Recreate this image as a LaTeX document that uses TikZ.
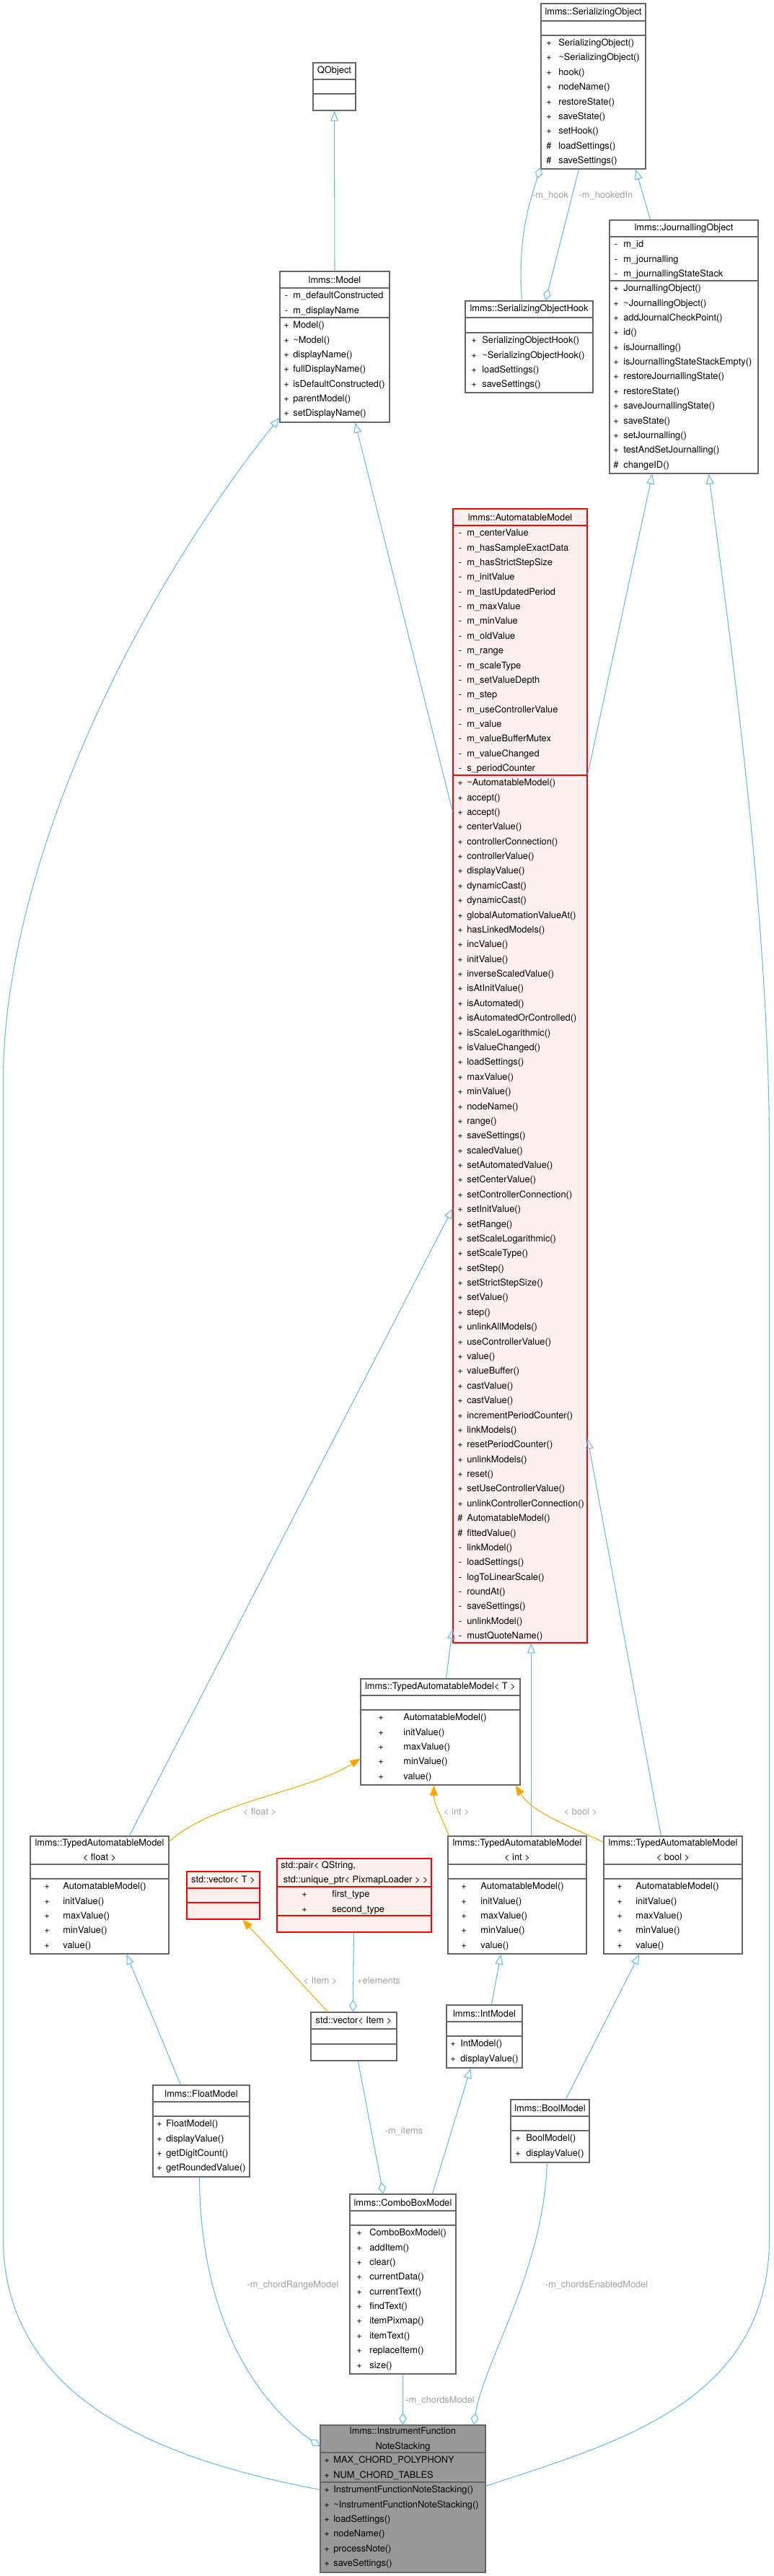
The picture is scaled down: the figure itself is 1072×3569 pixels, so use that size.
\documentclass[tikz,border=0pt]{standalone}
\usepackage{fontspec}
\setmainfont{TeX Gyre Heros}
\usepackage{tikz}
\usetikzlibrary{arrows.meta, fit, calc}
\definecolor{edgeblue}{RGB}{99, 184, 255}
\definecolor{boxgray}{RGB}{102, 102, 102}
\definecolor{tmplorange}{RGB}{255, 165, 0}
\definecolor{pinkfill}{RGB}{255, 240, 240}
\definecolor{nodegray}{RGB}{153, 153, 153}
\definecolor{labelgray}{RGB}{160, 160, 160}
\newcommand{\umlfont}{\fontsize{7.3}{11.6}\selectfont}
\newcommand{\leftrows}[1]{\begin{tabular}{@{}l@{}}#1\end{tabular}}
\newcommand{\midrows}[1]{\begin{tabular}{@{}c@{}}#1\end{tabular}}

\begin{document}
\begin{tikzpicture}[x=0.02cm, y=-0.02cm,
    classbox/.style={draw=boxgray, fill=white, line width=0.7pt, inner sep=0pt},
    redbox/.style={classbox, draw=red, fill=pinkfill},
    mainbox/.style={classbox, fill=nodegray},
    sepline/.style={draw=boxgray, line width=0.7pt},
    redline/.style={draw=red, line width=0.7pt},
    titletext/.style={inner sep=0pt, font=\umlfont},
    signcol/.style={anchor=north, inner sep=0pt, font=\umlfont},
    namecol/.style={anchor=north west, inner sep=0pt, font=\umlfont},
    inherit/.style={draw=edgeblue, line width=0.6pt, -{Triangle[open, length=8pt, width=6.2pt]}},
    aggr/.style={draw=edgeblue, line width=0.6pt, -{Diamond[open, length=9.5pt, width=6pt]}},
    tmpl/.style={draw=tmplorange, line width=0.6pt, -{Triangle[length=8pt, width=6.2pt]}},
    edgelabel/.style={inner sep=0pt, font=\umlfont, text=labelgray}]
\useasboundingbox (0,0) rectangle (1072,3569);

% QObject
\node[classbox, fit={(434,87) (493,153)}] (qobject) {};
\node[titletext] (qobject-title) at (463.5,98.5) {QObject};
\draw[sepline] (434,110) -- (493,110);
\draw[sepline] (434,130) -- (493,130);

% SerializingObject
\node[classbox, fit={(750,5) (895,234)}] (serobj) {};
\node[titletext] (serobj-title) at (822.5,17) {lmms::SerializingObject};
\draw[sepline] (750,29) -- (895,29);
\draw[sepline] (750,49) -- (895,49);
\node[signcol] (serobj-signs) at (761,49) {\midrows{+\\+\\+\\+\\+\\+\\+\\\#\\\#}};
\node[namecol] (serobj-ops) at (774,49) {\leftrows{SerializingObject()\\\textasciitilde SerializingObject()\\hook()\\nodeName()\\restoreState()\\saveState()\\setHook()\\loadSettings()\\saveSettings()}};

% Model
\node[classbox, fit={(388,376) (540,585)}] (model) {};
\node[titletext] (model-title) at (464,387.5) {lmms::Model};
\draw[sepline] (388,399) -- (540,399);
\draw[sepline] (388,440) -- (540,440);
\node[signcol] (model-asigns) at (397,399) {\midrows{-\\-}};
\node[namecol] (model-attrs) at (406,399) {\leftrows{m\_defaultConstructed\\m\_displayName}};
\node[signcol] (model-signs) at (397,440) {\midrows{+\\+\\+\\+\\+\\+\\+}};
\node[namecol] (model-ops) at (406,440) {\leftrows{Model()\\\textasciitilde Model()\\displayName()\\fullDisplayName()\\isDefaultConstructed()\\parentModel()\\setDisplayName()}};

% SerializingObjectHook
\node[classbox, fit={(645,417) (822,544)}] (sohook) {};
\node[titletext] (sohook-title) at (733.5,428.5) {lmms::SerializingObjectHook};
\draw[sepline] (645,440) -- (822,440);
\draw[sepline] (645,461) -- (822,461);
\node[signcol] (sohook-signs) at (657,461) {\midrows{+\\+\\+\\+}};
\node[namecol] (sohook-ops) at (668,461) {\leftrows{SerializingObjectHook()\\\textasciitilde SerializingObjectHook()\\loadSettings()\\saveSettings()}};

% JournallingObject
\node[classbox, fit={(845,305) (1051,656)}] (jobj) {};
\node[titletext] (jobj-title) at (948,316.5) {lmms::JournallingObject};
\draw[sepline] (845,328) -- (1051,328);
\draw[sepline] (845,389) -- (1051,389);
\node[signcol] (jobj-asigns) at (854,328) {\midrows{-\\-\\-}};
\node[namecol] (jobj-attrs) at (864,328) {\leftrows{m\_id\\m\_journalling\\m\_journallingStateStack}};
\node[signcol] (jobj-signs) at (854,389) {\midrows{+\\+\\+\\+\\+\\+\\+\\+\\+\\+\\+\\+\\\#}};
\node[namecol] (jobj-ops) at (864,389) {\leftrows{JournallingObject()\\\textasciitilde JournallingObject()\\addJournalCheckPoint()\\id()\\isJournalling()\\isJournallingStateStackEmpty()\\restoreJournallingState()\\restoreState()\\saveJournallingState()\\saveState()\\setJournalling()\\testAndSetJournalling()\\changeID()}};

% AutomatableModel
\node[redbox, fit={(628,705) (814,2276)}] (automodel) {};
\node[titletext] (automodel-title) at (721,716.5) {lmms::AutomatableModel};
\draw[redline] (628,728) -- (814,728);
\draw[redline] (628,1074) -- (814,1074);
\node[signcol] (automodel-asigns) at (638,728) {\midrows{-\\-\\-\\-\\-\\-\\-\\-\\-\\-\\-\\-\\-\\-\\-\\-\\-}};
\node[namecol] (automodel-attrs) at (647,728) {\leftrows{m\_centerValue\\m\_hasSampleExactData\\m\_hasStrictStepSize\\m\_initValue\\m\_lastUpdatedPeriod\\m\_maxValue\\m\_minValue\\m\_oldValue\\m\_range\\m\_scaleType\\m\_setValueDepth\\m\_step\\m\_useControllerValue\\m\_value\\m\_valueBufferMutex\\m\_valueChanged\\s\_periodCounter}};
\node[signcol] (automodel-signs) at (638,1074) {\midrows{+\\+\\+\\+\\+\\+\\+\\+\\+\\+\\
    +\\+\\+\\+\\+\\+\\+\\+\\+\\+\\
    +\\+\\+\\+\\+\\+\\+\\+\\+\\+\\
    +\\+\\+\\+\\+\\+\\+\\+\\+\\+\\
    +\\+\\+\\+\\+\\+\\+\\+\\+\\+\\
    \#\\\#\\-\\-\\-\\-\\-\\-\\-}};
\node[namecol] (automodel-ops) at (647,1074) {\leftrows{\textasciitilde AutomatableModel()\\accept()\\accept()\\centerValue()\\controllerConnection()\\controllerValue()\\displayValue()\\dynamicCast()\\dynamicCast()\\globalAutomationValueAt()\\
    hasLinkedModels()\\incValue()\\initValue()\\inverseScaledValue()\\isAtInitValue()\\isAutomated()\\isAutomatedOrControlled()\\isScaleLogarithmic()\\isValueChanged()\\loadSettings()\\
    maxValue()\\minValue()\\nodeName()\\range()\\saveSettings()\\scaledValue()\\setAutomatedValue()\\setCenterValue()\\setControllerConnection()\\setInitValue()\\
    setRange()\\setScaleLogarithmic()\\setScaleType()\\setStep()\\setStrictStepSize()\\setValue()\\step()\\unlinkAllModels()\\useControllerValue()\\value()\\
    valueBuffer()\\castValue()\\castValue()\\incrementPeriodCounter()\\linkModels()\\resetPeriodCounter()\\unlinkModels()\\reset()\\setUseControllerValue()\\unlinkControllerConnection()\\
    AutomatableModel()\\fittedValue()\\linkModel()\\loadSettings()\\logToLinearScale()\\roundAt()\\saveSettings()\\unlinkModel()\\mustQuoteName()}};

% TypedAutomatableModel< T >
\node[classbox, fit={(500,2326) (721,2473)}] (tamT) {};
\node[titletext] (tamT-title) at (610.5,2337.5) {lmms::TypedAutomatableModel< T >};
\draw[sepline] (500,2349) -- (721,2349);
\draw[sepline] (500,2369) -- (721,2369);
\node[signcol] (tamT-signs) at (528,2369) {\midrows{+\\+\\+\\+\\+}};
\node[namecol] (tamT-ops) at (559,2369) {\leftrows{AutomatableModel()\\initValue()\\maxValue()\\minValue()\\value()}};

% TypedAutomatableModel< float >
\node[classbox, fit={(42,2544) (234,2707)}] (tamfloat) {};
\node[titletext] (tamfloat-title) at (138,2563.5) {\midrows{lmms::TypedAutomatableModel\\< float >}};
\draw[sepline] (42,2583) -- (234,2583);
\draw[sepline] (42,2603) -- (234,2603);
\node[signcol] (tamfloat-signs) at (65,2603) {\midrows{+\\+\\+\\+\\+}};
\node[namecol] (tamfloat-ops) at (87,2603) {\leftrows{AutomatableModel()\\initValue()\\maxValue()\\minValue()\\value()}};

% TypedAutomatableModel< int >
\node[classbox, fit={(621,2544) (813,2707)}] (tamint) {};
\node[titletext] (tamint-title) at (717,2563.5) {\midrows{lmms::TypedAutomatableModel\\< int >}};
\draw[sepline] (621,2583) -- (813,2583);
\draw[sepline] (621,2603) -- (813,2603);
\node[signcol] (tamint-signs) at (643,2603) {\midrows{+\\+\\+\\+\\+}};
\node[namecol] (tamint-ops) at (666,2603) {\leftrows{AutomatableModel()\\initValue()\\maxValue()\\minValue()\\value()}};

% TypedAutomatableModel< bool >
\node[classbox, fit={(837,2544) (1029,2707)}] (tambool) {};
\node[titletext] (tambool-title) at (933,2563.5) {\midrows{lmms::TypedAutomatableModel\\< bool >}};
\draw[sepline] (837,2583) -- (1029,2583);
\draw[sepline] (837,2603) -- (1029,2603);
\node[signcol] (tambool-signs) at (859,2603) {\midrows{+\\+\\+\\+\\+}};
\node[namecol] (tambool-ops) at (881,2603) {\leftrows{AutomatableModel()\\initValue()\\maxValue()\\minValue()\\value()}};

% std::vector< T >
\node[redbox, fit={(259,2593) (360,2659)}] (vecT) {};
\node[titletext] (vecT-title) at (309.5,2604.5) {std::vector< T >};
\draw[redline] (259,2616) -- (360,2616);
\draw[redline] (259,2636) -- (360,2636);

% std::pair
\node[redbox, fit={(384,2575) (598,2677)}] (pair) {};
\node[titletext, anchor=west] (pair-title) at (389,2594.5) {\leftrows{std::pair< QString,\\\ std::unique\_ptr< PixmapLoader > >}};
\draw[redline] (384,2614) -- (598,2614);
\draw[redline] (384,2654) -- (598,2654);
\node[signcol] (pair-asigns) at (422,2614) {\midrows{+\\+}};
\node[namecol] (pair-attrs) at (460,2614) {\leftrows{first\_type\\second\_type}};

% std::vector< Item >
\node[classbox, fit={(431,2788) (550,2855)}] (vecitem) {};
\node[titletext] (vecitem-title) at (490.5,2799.5) {std::vector< Item >};
\draw[sepline] (431,2811) -- (550,2811);
\draw[sepline] (431,2832) -- (550,2832);

% IntModel
\node[classbox, fit={(619,2778) (724,2865)}] (intmodel) {};
\node[titletext] (intmodel-title) at (671.5,2789.5) {lmms::IntModel};
\draw[sepline] (619,2801) -- (724,2801);
\draw[sepline] (619,2821) -- (724,2821);
\node[signcol] (intmodel-signs) at (628,2821) {\midrows{+\\+}};
\node[namecol] (intmodel-ops) at (638,2821) {\leftrows{IntModel()\\displayValue()}};

% FloatModel
\node[classbox, fit={(212,2889) (346,3016)}] (floatmodel) {};
\node[titletext] (floatmodel-title) at (279,2900.5) {lmms::FloatModel};
\draw[sepline] (212,2912) -- (346,2912);
\draw[sepline] (212,2932) -- (346,2932);
\node[signcol] (floatmodel-signs) at (221,2932) {\midrows{+\\+\\+\\+}};
\node[namecol] (floatmodel-ops) at (230,2932) {\leftrows{FloatModel()\\displayValue()\\getDigitCount()\\getRoundedValue()}};

% BoolModel
\node[classbox, fit={(708,2909) (817,2996)}] (boolmodel) {};
\node[titletext] (boolmodel-title) at (762.5,2920.5) {lmms::BoolModel};
\draw[sepline] (708,2932) -- (817,2932);
\draw[sepline] (708,2952) -- (817,2952);
\node[signcol] (boolmodel-signs) at (718,2952) {\midrows{+\\+}};
\node[namecol] (boolmodel-ops) at (729,2952) {\leftrows{BoolModel()\\displayValue()}};

% ComboBoxModel
\node[classbox, fit={(485,3040) (632,3289)}] (combomodel) {};
\node[titletext] (combomodel-title) at (558.5,3051.5) {lmms::ComboBoxModel};
\draw[sepline] (485,3063) -- (632,3063);
\draw[sepline] (485,3083) -- (632,3083);
\node[signcol] (combomodel-signs) at (498,3083) {\midrows{+\\+\\+\\+\\+\\+\\+\\+\\+\\+}};
\node[namecol] (combomodel-ops) at (512,3083) {\leftrows{ComboBoxModel()\\addItem()\\clear()\\currentData()\\currentText()\\findText()\\itemPixmap()\\itemText()\\replaceItem()\\size()}};

% InstrumentFunctionNoteStacking
\node[mainbox, fit={(444,3360) (673,3564)}] (notestack) {};
\node[titletext] (notestack-title) at (558.5,3379) {\midrows{lmms::InstrumentFunction\\NoteStacking}};
\draw[sepline] (444,3398) -- (673,3398);
\draw[sepline] (444,3439) -- (673,3439);
\node[signcol] (notestack-asigns) at (453,3398) {\midrows{+\\+}};
\node[namecol] (notestack-attrs) at (462,3398) {\leftrows{MAX\_CHORD\_POLYPHONY\\NUM\_CHORD\_TABLES}};
\node[signcol] (notestack-signs) at (453,3439) {\midrows{+\\+\\+\\+\\+\\+}};
\node[namecol] (notestack-ops) at (462,3439) {\leftrows{InstrumentFunctionNoteStacking()\\\textasciitilde InstrumentFunctionNoteStacking()\\loadSettings()\\nodeName()\\processNote()\\saveSettings()}};

% inheritance near the top
\draw[inherit] (model.north) -- (qobject.south);
\draw[inherit] ($(jobj.north west)+(57,0)$) -- ($(serobj.south west)+(132,0)$);
\draw[inherit] ($(automodel.north west)+(0,420)$) -- ($(model.south west)+(105,0)$);
\draw[inherit] ($(automodel.north east)+(0,369)$) -- ($(jobj.south west)+(60,0)$);

% hook members
\draw[aggr] ($(sohook.north west)+(79,0)$) .. controls +(-6,-90) and +(-15,49) .. ($(serobj.south west)+(0,-3)$);
\draw[aggr] ($(serobj.south west)+(53,0)$) -- ($(sohook.north west)+(112,0)$);
\node[edgelabel] (lbl-hook) at (763,271) {-m\_hook};
\node[edgelabel] (lbl-hookedin) at (840,271) {-m\_hookedIn};

% long inheritance edges of the note stacking class
\draw[inherit] ($(notestack.north west)+(0,90)$) .. controls +(-210,-40) and +(0,230) .. ++(-439,-350)
    -- ++(0,-1600) .. controls +(0,-300) and +(-200,250) .. ($(model.south west)+(0,-7)$);
\draw[inherit] ($(notestack.north east)+(0,85)$) .. controls +(180,-60) and +(0,230) .. ++(393,-345)
    -- ++(0,-1500) .. controls +(0,-300) and +(40,300) .. ($(jobj.south west)+(138,0)$);

% typed models
\draw[inherit] ($(tamfloat.north west)+(138,0)$) -- ($(automodel.north west)+(0,970)$);
\draw[inherit] ($(tamT.north west)+(119,0)$) -- ($(automodel.south west)+(0,-20)$);
\draw[inherit] ($(tamint.north west)+(116,0)$) -- ($(automodel.south west)+(109,0)$);
\draw[inherit] ($(tambool.north west)+(80,0)$) -- ($(automodel.north east)+(0,1289)$);

% template instances
\draw[tmpl] ($(tamfloat.north east)+(0,8)$) .. controls +(60,-55) and +(-70,45) .. ($(tamT.north west)+(0,111)$);
\draw[tmpl] ($(tamint.north west)+(2,0)$) .. controls +(-12,-30) and +(0,25) .. ($(tamT.south west)+(102,0)$);
\draw[tmpl] ($(tambool.north west)+(0,9)$) .. controls +(-40,-20) and +(25,40) .. ($(tamT.south east)+(-7,0)$);
\draw[tmpl] ($(vecitem.north west)+(24,0)$) -- ($(vecT.south west)+(78,0)$);
\node[edgelabel] (lbl-float) at (360,2510) {< float >};
\node[edgelabel] (lbl-int) at (633,2510) {< int >};
\node[edgelabel] (lbl-bool) at (805,2510) {< bool >};
\node[edgelabel] (lbl-item) at (444,2744) {< Item >};

% lower part
\draw[aggr] ($(pair.south west)+(107,0)$) -- ($(vecitem.north west)+(59,0)$);
\node[edgelabel] (lbl-elements) at (525,2744) {+elements};
\draw[inherit] ($(floatmodel.north west)+(39,0)$) -- ($(tamfloat.south west)+(134,0)$);
\draw[inherit] ($(intmodel.north west)+(63,0)$) -- ($(tamint.south west)+(74,0)$);
\draw[inherit] ($(boolmodel.north west)+(77,0)$) -- ($(tambool.south west)+(50,0)$);
\draw[aggr] ($(vecitem.south west)+(66,0)$) -- ($(combomodel.north west)+(47,0)$);
\node[edgelabel] (lbl-items) at (560,2953) {-m\_items};
\draw[inherit] ($(combomodel.north west)+(115,0)$) -- ($(intmodel.south west)+(34,0)$);

% members of the note stacking class
\draw[aggr] ($(floatmodel.south west)+(65,0)$) .. controls +(2,220) and +(-70,-50) .. ($(notestack.north west)+(0,30)$);
\draw[aggr] (combomodel.south) -- (combomodel.south |- notestack.north);
\draw[aggr] ($(boolmodel.south west)+(51,0)$) .. controls +(-5,150) and +(15,-90) .. ($(notestack.north east)+(-17,0)$);
\node[edgelabel] (lbl-range) at (406,3166) {-m\_chordRangeModel};
\node[edgelabel] (lbl-chords) at (610,3326) {-m\_chordsModel};
\node[edgelabel] (lbl-enabled) at (827,3166) {-m\_chordsEnabledModel};
\end{tikzpicture}
\end{document}
